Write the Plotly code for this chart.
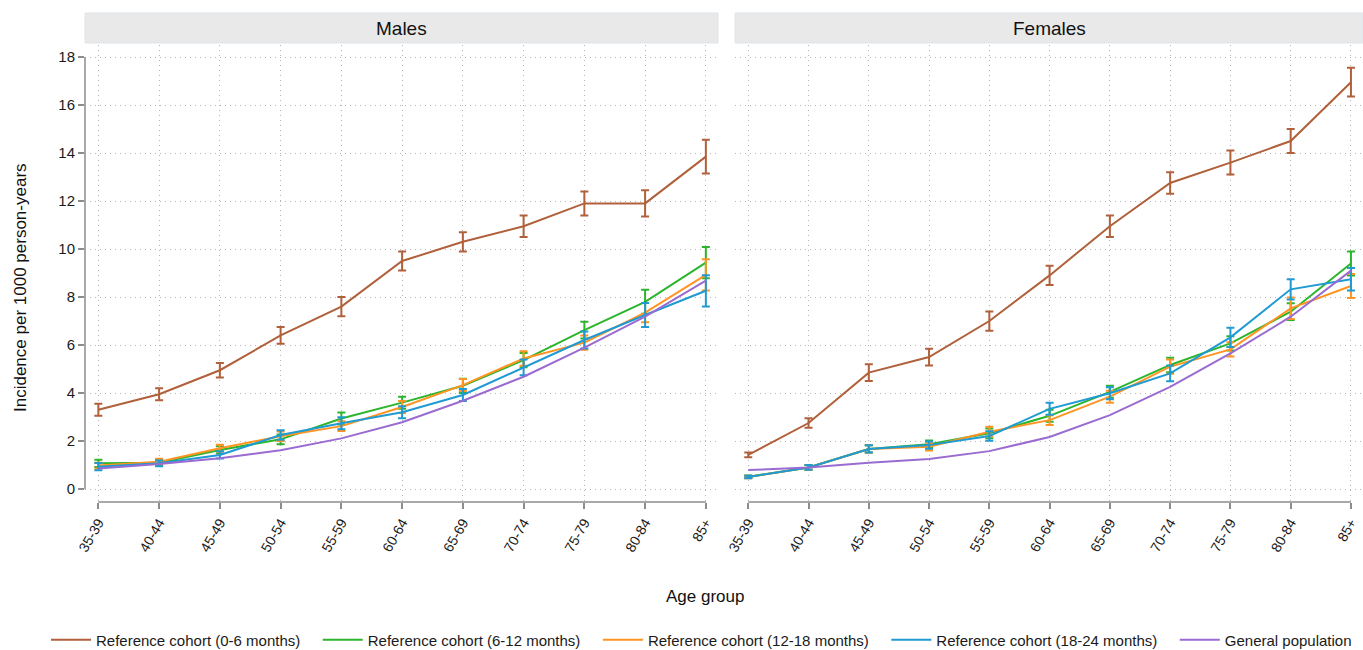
import plotly.graph_objects as go

ages = ["35-39", "40-44", "45-49", "50-54", "55-59", "60-64", "65-69", "70-74", "75-79", "80-84", "85+"]
series_names = ["Reference cohort (0-6 months)", "Reference cohort (6-12 months)",
                "Reference cohort (12-18 months)", "Reference cohort (18-24 months)",
                "General population"]

# Males
m_06 = [3.3, 3.95, 4.95, 6.4, 7.6, 9.5, 10.3, 10.95, 11.9, 11.9, 13.85]
m_06_err = [0.25, 0.25, 0.3, 0.35, 0.4, 0.4, 0.4, 0.45, 0.5, 0.55, 0.7]
m_612 = [1.07, 1.1, 1.63, 2.07, 2.94, 3.6, 4.3, 5.37, 6.62, 7.8, 9.43]
m_612_err = [0.15, 0.12, 0.15, 0.2, 0.25, 0.25, 0.3, 0.3, 0.35, 0.5, 0.65]
m_1218 = [0.98, 1.14, 1.7, 2.2, 2.62, 3.42, 4.33, 5.44, 6.1, 7.35, 8.92]
m_1218_err = [0.12, 0.12, 0.15, 0.2, 0.2, 0.25, 0.25, 0.3, 0.3, 0.4, 0.65]
m_1824 = [0.93, 1.07, 1.42, 2.25, 2.74, 3.2, 3.92, 5.07, 6.21, 7.25, 8.26]
m_1824_err = [0.15, 0.12, 0.15, 0.2, 0.25, 0.25, 0.25, 0.33, 0.35, 0.5, 0.65]
m_gen = [0.86, 1.04, 1.28, 1.62, 2.11, 2.78, 3.68, 4.68, 5.89, 7.18, 8.68]

# Females
f_06 = [1.42, 2.75, 4.85, 5.5, 7.0, 8.9, 10.95, 12.75, 13.6, 14.5, 16.95]
f_06_err = [0.1, 0.2, 0.35, 0.35, 0.4, 0.4, 0.45, 0.45, 0.5, 0.5, 0.6]
f_612 = [0.51, 0.9, 1.67, 1.87, 2.32, 3.05, 4.05, 5.17, 6.07, 7.39, 9.4]
f_612_err = [0.05, 0.1, 0.15, 0.15, 0.2, 0.25, 0.25, 0.3, 0.3, 0.35, 0.5]
f_1218 = [0.5, 0.9, 1.67, 1.76, 2.39, 2.87, 3.85, 5.1, 5.82, 7.53, 8.46]
f_1218_err = [0.05, 0.1, 0.15, 0.15, 0.2, 0.2, 0.25, 0.3, 0.3, 0.45, 0.5]
f_1824 = [0.5, 0.9, 1.67, 1.83, 2.21, 3.34, 3.99, 4.82, 6.32, 8.32, 8.74]
f_1824_err = [0.05, 0.1, 0.15, 0.15, 0.2, 0.25, 0.25, 0.33, 0.4, 0.42, 0.47]
f_gen = [0.79, 0.9, 1.1, 1.25, 1.58, 2.17, 3.08, 4.26, 5.65, 7.18, 9.1]

colors = ["#b0603a", "#2cb52c", "#ff9422", "#1f9ad2", "#9a6bd0"]

W, H = 1363, 650
FONT = "Arial, Liberation Sans, sans-serif"
PAD = "\u00a0" * 3  # extra spacing between legend entries

fig = go.Figure()

male = [(m_06, m_06_err), (m_612, m_612_err), (m_1218, m_1218_err), (m_1824, m_1824_err), (m_gen, None)]
female = [(f_06, f_06_err), (f_612, f_612_err), (f_1218, f_1218_err), (f_1824, f_1824_err), (f_gen, None)]

for panel, (data, xa, ya) in enumerate([(male, "x", "y"), (female, "x2", "y2")]):
    for i, (vals, err) in enumerate(data):
        kw = {}
        if err is not None:
            kw["error_y"] = dict(type="data", array=err, visible=True, color=colors[i],
                                 thickness=2, width=4)
        fig.add_trace(go.Scatter(
            x=ages, y=vals, mode="lines", name=series_names[i] + (PAD if i < 4 else ""),
            line=dict(color=colors[i], width=2),
            xaxis=xa, yaxis=ya, showlegend=(panel == 0), legendgroup=series_names[i],
            **kw))

xd1 = [85 / W, 718 / W]
xd2 = [735 / W, 1.0]
yd = [1 - 502 / H, 1 - 45 / H]

axis_common = dict(showgrid=True, gridcolor="#b4b4b4", griddash="1px,4px", gridwidth=1,
                   zeroline=False, showline=False, automargin=False)

xcommon = dict(axis_common, type="category", range=[-0.22, 10.2], ticks="outside",
               ticklen=6, tickcolor="#8c8c8c", tickwidth=1.5, tickangle=-60,
               tickfont=dict(family=FONT, size=14, color="#1a1a1a"))
fig.update_layout(
    xaxis=dict(xcommon, domain=xd1, anchor="y"),
    xaxis2=dict(xcommon, domain=xd2, anchor="y2"),
    yaxis=dict(axis_common, domain=yd, range=[-0.54, 18.5], tickvals=list(range(0, 19, 2)),
               ticks="outside", ticklen=6, tickcolor="#8c8c8c", tickwidth=1.5,
               tickfont=dict(family=FONT, size=15, color="#1a1a1a"), anchor="x"),
    yaxis2=dict(axis_common, domain=yd, range=[-0.54, 18.5], tickvals=list(range(0, 19, 2)),
                showticklabels=False, anchor="x2"),
)

shapes = []
# axis lines spanning only the tick range
shapes.append(dict(type="line", xref="x domain", yref="y", x0=0, x1=0, y0=0, y1=18,
                   line=dict(color="#8c8c8c", width=1.5)))
for xr, yr in [("x", "y domain"), ("x2", "y2 domain")]:
    shapes.append(dict(type="line", xref=xr, yref=yr, x0=0, x1=10, y0=0, y1=0,
                       line=dict(color="#8c8c8c", width=1.5)))
# panel header strips
for x0, x1 in [(85, 718), (735, 1363)]:
    shapes.append(dict(type="rect", xref="paper", yref="paper", x0=x0 / W, x1=x1 / W,
                       y0=1 - 43 / H, y1=1 - 13 / H, fillcolor="#e9e9e9",
                       line=dict(color="#dfe5ea", width=1), layer="below"))

annotations = [
    dict(text="Males", x=(85 + 718) / 2 / W, y=1 - 28 / H, xref="paper", yref="paper",
         showarrow=False, font=dict(family=FONT, size=19, color="#111"), xanchor="center", yanchor="middle"),
    dict(text="Females", x=(735 + 1363) / 2 / W, y=1 - 28 / H, xref="paper", yref="paper",
         showarrow=False, font=dict(family=FONT, size=19, color="#111"), xanchor="center", yanchor="middle"),
    dict(text="Age group", x=705 / W, y=1 - 596 / H, xref="paper", yref="paper",
         showarrow=False, font=dict(family=FONT, size=17, color="#111"), xanchor="center", yanchor="middle"),
    dict(text="Incidence per 1000 person-years", x=20 / W, y=1 - 288 / H, xref="paper", yref="paper",
         showarrow=False, textangle=-90, font=dict(family=FONT, size=17, color="#111"),
         xanchor="center", yanchor="middle"),
]

fig.update_layout(
    width=W, height=H,
    margin=dict(l=0, r=0, t=0, b=0, autoexpand=False),
    paper_bgcolor="white", plot_bgcolor="white",
    shapes=shapes, annotations=annotations,
    font=dict(family=FONT, color="#1a1a1a"),
    legend=dict(orientation="h", x=46 / W, y=1 - 640 / H, xanchor="left", yanchor="middle",
                font=dict(family=FONT, size=15, color="#1a1a1a"), itemwidth=40,
                bgcolor="rgba(0,0,0,0)", traceorder="normal"),
)

fig.write_html("out.html", config={"displayModeBar": False},
               post_script="document.body.style.margin='0';document.body.style.overflow='hidden';")
